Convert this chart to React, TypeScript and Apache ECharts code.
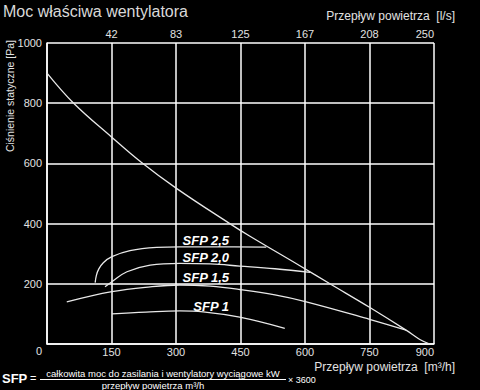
import React, { useEffect, useRef } from "react";
import * as echarts from "echarts";

const xTicks = [0, 150, 300, 450, 600, 750, 900];
const topTickLabels = ["", "42", "83", "125", "167", "208", "250"];

const fanFlow = [0, 62, 150, 220, 301, 425, 472, 588, 657, 750, 835, 867, 890];
const fanPressure = [900, 800, 688, 603, 517, 400, 358, 260, 201, 122, 46, 15, 0];

const sfp25Flow = [112, 115, 120, 131, 151, 193, 255, 309, 400, 510];
const sfp25Pressure = [204, 229, 248, 270, 290, 310, 321, 323, 323, 322];

const sfp20Flow = [135, 151, 186, 240, 309, 380, 448, 530, 612];
const sfp20Pressure = [190, 207, 240, 262, 268, 266, 259, 250, 238];

const sfp15Flow = [46, 151, 240, 309, 380, 448, 530, 603, 750, 835];
const sfp15Pressure = [140, 174, 190, 196, 192, 181, 163, 140, 82, 46];

const sfp1Flow = [151, 230, 309, 363, 448, 553];
const sfp1Pressure = [100, 106, 110, 107, 89, 52];

const sfpLabels = ["SFP 2,5", "SFP 2,0", "SFP 1,5", "SFP 1"];

const zip = (a: number[], b: number[]) => a.map((v, i) => [v, b[i]]);

const FONT = "Liberation Sans, Arial, sans-serif";
const TXT = "#e2e2e2";

export default function App() {
  const ref = useRef<HTMLDivElement>(null);
  useEffect(() => {
    if (!ref.current) return;
    const chart = echarts.init(ref.current, undefined, { renderer: "svg" });
    const lineStyle = { color: "#e8e8e8", width: 1.3 };
    const mkSeries = (name: string, data: number[][]) => ({
      type: "line",
      name,
      data,
      smooth: 0.4,
      showSymbol: false,
      symbol: "none",
      lineStyle,
      xAxisIndex: 0,
      yAxisIndex: 0,
    });
    const sfpText = (text: string, x: number, y: number) => ({
      type: "text",
      x,
      y,
      style: {
        text,
        fill: "#ffffff",
        font: `italic bold 13px ${FONT}`,
        align: "right",
        verticalAlign: "middle",
      },
    });
    chart.setOption({
      animation: false,
      backgroundColor: "#000000",
      grid: { left: 47, right: 46, top: 43, bottom: 46 },
      xAxis: [
        {
          type: "value",
          position: "bottom",
          min: 0,
          max: 900,
          interval: 150,
          axisLine: { show: true, lineStyle: { color: "#ffffff", width: 1.5 } },
          axisTick: { show: false },
          splitLine: { show: true, lineStyle: { color: "#ffffff", width: 1.5 } },
          axisLabel: {
            color: TXT,
            fontSize: 11,
            fontFamily: FONT,
            margin: 2,
            alignMaxLabel: "right",
            formatter: (v: number) => (v === 0 ? "" : String(v)),
          },
        },
        {
          type: "value",
          position: "top",
          min: 0,
          max: 900,
          interval: 150,
          axisLine: { show: false },
          axisTick: { show: false },
          splitLine: { show: false },
          axisLabel: {
            color: TXT,
            fontSize: 11,
            fontFamily: FONT,
            margin: 4,
            alignMaxLabel: "right",
            formatter: (v: number) => topTickLabels[xTicks.indexOf(v)] ?? "",
          },
        },
      ],
      yAxis: {
        type: "value",
        min: 0,
        max: 1000,
        interval: 200,
        axisLine: { show: true, lineStyle: { color: "#ffffff", width: 1.5 } },
        axisTick: { show: false },
        splitLine: { show: true, lineStyle: { color: "#ffffff", width: 1.5 } },
        axisLabel: {
          color: TXT,
          fontSize: 11,
          fontFamily: FONT,
          margin: 5,
          formatter: (v: number) => (v === 0 ? "" : String(v)),
        },
      },
      series: [
        mkSeries("fan", zip(fanFlow, fanPressure)),
        mkSeries(sfpLabels[0], zip(sfp25Flow, sfp25Pressure)),
        mkSeries(sfpLabels[1], zip(sfp20Flow, sfp20Pressure)),
        mkSeries(sfpLabels[2], zip(sfp15Flow, sfp15Pressure)),
        mkSeries(sfpLabels[3], zip(sfp1Flow, sfp1Pressure)),
      ],
      graphic: [
        {
          type: "text",
          x: 3,
          y: 11,
          style: {
            text: "Moc właściwa wentylatora",
            fill: "#d9d9d9",
            font: `16px ${FONT}`,
            verticalAlign: "middle",
          },
        },
        {
          type: "text",
          x: 455,
          y: 16,
          style: {
            text: "Przepływ powietrza  [l/s]",
            fill: TXT,
            font: `12px ${FONT}`,
            align: "right",
            verticalAlign: "middle",
          },
        },
        {
          type: "text",
          x: 455,
          y: 367,
          style: {
            text: "Przepływ powietrza  [m³/h]",
            fill: TXT,
            font: `12px ${FONT}`,
            align: "right",
            verticalAlign: "middle",
          },
        },
        {
          type: "text",
          x: 10,
          y: 40,
          rotation: Math.PI / 2,
          style: {
            text: "Ciśnienie statyczne [Pa]",
            fill: TXT,
            font: `10.5px ${FONT}`,
            align: "right",
            verticalAlign: "middle",
          },
        },
        {
          type: "text",
          x: 39,
          y: 351,
          style: {
            text: "0",
            fill: TXT,
            font: `11px ${FONT}`,
            align: "center",
            verticalAlign: "middle",
          },
        },
        sfpText(sfpLabels[0], 229, 240),
        sfpText(sfpLabels[1], 229, 257),
        sfpText(sfpLabels[2], 229, 277),
        sfpText(sfpLabels[3], 229, 306),
        {
          type: "text",
          x: 2,
          y: 378,
          style: {
            text: "SFP",
            fill: "#ffffff",
            font: `bold 13px ${FONT}`,
            verticalAlign: "middle",
          },
        },
        {
          type: "text",
          x: 30,
          y: 378,
          style: {
            text: "=",
            fill: "#ffffff",
            font: `11px ${FONT}`,
            verticalAlign: "middle",
          },
        },
        {
          type: "text",
          x: 163,
          y: 373,
          style: {
            text: "całkowita moc do zasilania i wentylatory wyciągowe kW",
            fill: "#ffffff",
            font: `9.5px ${FONT}`,
            align: "center",
            verticalAlign: "middle",
          },
        },
        {
          type: "line",
          shape: { x1: 40, y1: 379.5, x2: 286, y2: 379.5 },
          style: { stroke: "#ffffff", lineWidth: 1 },
        },
        {
          type: "text",
          x: 153,
          y: 385,
          style: {
            text: "przepływ powietrza m³/h",
            fill: "#ffffff",
            font: `9.5px ${FONT}`,
            align: "center",
            verticalAlign: "middle",
          },
        },
        {
          type: "text",
          x: 288,
          y: 380,
          style: {
            text: "× 3600",
            fill: "#ffffff",
            font: `9px ${FONT}`,
            verticalAlign: "middle",
          },
        },
      ],
    });
    return () => chart.dispose();
  }, []);
  return <div ref={ref} style={{ width: 480, height: 390, position: "fixed", left: 0, top: 0 }} />;
}
